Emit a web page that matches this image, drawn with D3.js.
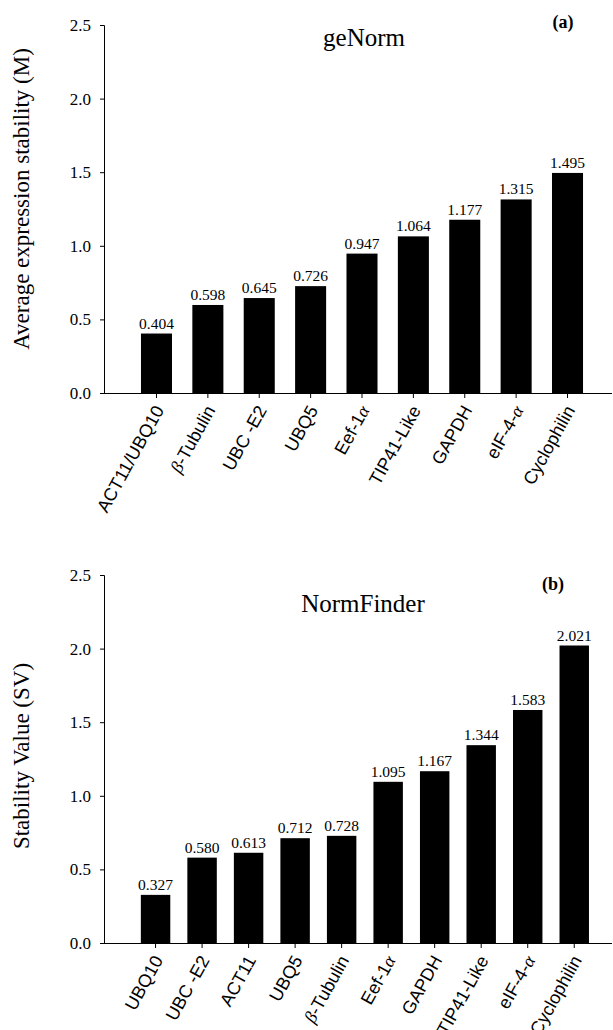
<!DOCTYPE html>
<html>
<head>
<meta charset="utf-8">
<script src="https://cdnjs.cloudflare.com/ajax/libs/d3/7.8.5/d3.min.js"></script>
<style>
    body { margin: 0; background: #fff; }
    svg { display: block; }
    .serif { font-family: "Liberation Serif", "Times New Roman", serif; fill: #000; }
    .sans { font-family: "Liberation Sans", Arial, sans-serif; fill: #000; }
    .greek { font-family: "Liberation Serif", "Times New Roman", serif; font-style: italic; }
    .axis path, .axis line { stroke: #000; stroke-width: 1; fill: none; }
</style>
</head>
<body>
<svg id="chart" width="613" height="1030"></svg>
<script>
// geNorm (a)
var genormGenes = ["ACT11/UBQ10", "β-Tubulin", "UBC -E2", "UBQ5", "Eef-1α", "TIP41-Like", "GAPDH", "eIF-4-α", "Cyclophilin"];
var genormValues = [0.404, 0.598, 0.645, 0.726, 0.947, 1.064, 1.177, 1.315, 1.495];

// NormFinder (b)
var normfinderGenes = ["UBQ10", "UBC -E2", "ACT11", "UBQ5", "β-Tubulin", "Eef-1α", "GAPDH", "TIP41-Like", "eIF-4-α", "Cyclophilin"];
var normfinderValues = [0.327, 0.580, 0.613, 0.712, 0.728, 1.095, 1.167, 1.344, 1.583, 2.021];

var yTicks = [0, 0.5, 1.0, 1.5, 2.0, 2.5];

var svg = d3.select("#chart");

function drawPanel(p) {
    var data = p.genes.map(function(g, i) { return {gene: g, value: p.values[i]}; });

    var g = svg.append("g");

    var x = d3.scaleBand()
        .domain(p.genes)
        .range(p.band)
        .paddingInner(p.pad)
        .paddingOuter(p.pad / 2);

    var y = d3.scaleLinear()
        .domain([0, 2.5])
        .range([p.bottom, p.top]);

    // bars
    g.selectAll("rect.bar")
        .data(data)
        .enter().append("rect")
        .attr("class", "bar")
        .attr("x", function(d) { return x(d.gene); })
        .attr("y", function(d) { return y(d.value); })
        .attr("width", x.bandwidth())
        .attr("height", function(d) { return y(0) - y(d.value); })
        .attr("fill", "#000");

    // value labels
    g.selectAll("text.val")
        .data(data)
        .enter().append("text")
        .attr("class", "val serif")
        .attr("x", function(d) { return x(d.gene) + x.bandwidth() / 2; })
        .attr("y", function(d) { return y(d.value) - 5; })
        .attr("text-anchor", "middle")
        .style("font-size", "15.5px")
        .text(function(d) { return d3.format(".3f")(d.value); });

    // y axis
    var yAxis = g.append("g")
        .attr("class", "axis")
        .attr("transform", "translate(" + p.left + ",0)")
        .call(d3.axisLeft(y).tickValues(yTicks).tickSize(4).tickPadding(9).tickFormat(d3.format(".1f")));
    yAxis.selectAll("text")
        .attr("class", "serif")
        .style("font-size", "17px");

    // x axis: ticks at bar centres, baseline across the whole width
    var xAxis = g.append("g")
        .attr("class", "axis")
        .attr("transform", "translate(0," + p.bottom + ")")
        .call(d3.axisBottom(x).tickSize(5).tickFormat(""));
    xAxis.select(".domain").remove();

    g.append("line")
        .attr("x1", p.left - 4)
        .attr("x2", p.right)
        .attr("y1", p.bottom + 0.5)
        .attr("y2", p.bottom + 0.5)
        .attr("stroke", "#000");

    var labels = g.selectAll("text.gene")
        .data(p.genes)
        .enter().append("text")
        .attr("class", "gene sans")
        .attr("text-anchor", "end")
        .style("font-size", "18px")
        .attr("transform", function(d) {
            return "translate(" + (x(d) + x.bandwidth() / 2 + 8) + "," + (p.bottom + 17) + ") rotate(-61)";
        });

    // greek letters set in italic serif, like the original
    labels.each(function(d) {
        var t = d3.select(this);
        d.split(/([αβ])/).forEach(function(part) {
            if (!part) return;
            t.append("tspan")
                .attr("class", /[αβ]/.test(part) ? "greek" : null)
                .text(part);
        });
    });

    // y title
    g.append("text")
        .attr("class", "serif")
        .attr("text-anchor", "middle")
        .style("font-size", "23px")
        .attr("transform", "translate(29," + p.ytitleY + ") rotate(-90)")
        .text(p.ytitle);

    // panel title and letter
    g.append("text")
        .attr("class", "serif")
        .attr("text-anchor", "middle")
        .attr("x", p.titleX)
        .attr("y", p.titleY)
        .style("font-size", "25px")
        .text(p.title);

    g.append("text")
        .attr("class", "serif")
        .attr("text-anchor", "middle")
        .attr("x", p.letterX)
        .attr("y", p.letterY)
        .style("font-size", "18px")
        .style("font-weight", "bold")
        .text(p.letter);
}

drawPanel({
    genes: genormGenes, values: genormValues,
    left: 104, right: 612, top: 25, bottom: 393,
    band: [130.8, 593.2], pad: 0.396,
    title: "geNorm", titleX: 364, titleY: 46,
    letter: "(a)", letterX: 563, letterY: 28,
    ytitle: "Average expression stability (M)", ytitleY: 199
});

drawPanel({
    genes: normfinderGenes, values: normfinderValues,
    left: 104, right: 612, top: 575, bottom: 943,
    band: [132.3, 597.5], pad: 0.367,
    title: "NormFinder", titleX: 363, titleY: 612,
    letter: "(b)", letterX: 553, letterY: 590,
    ytitle: "Stability Value (SV)", ytitleY: 756
});
</script>
</body>
</html>
